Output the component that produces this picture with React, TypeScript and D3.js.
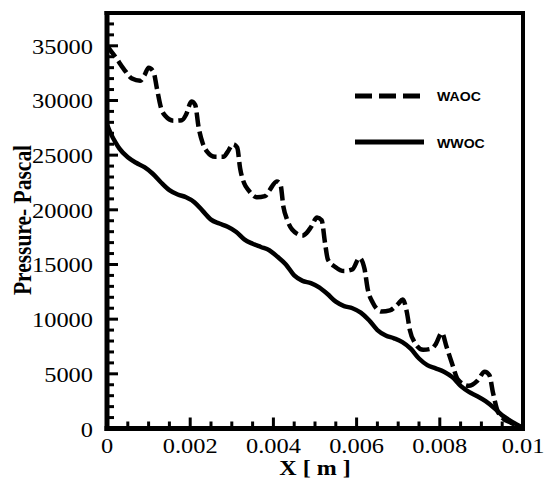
import React from "react";
import * as d3 from "d3";

const W = 547;
const H = 483;

// WAOC (dashed) series: x [m], pressure [Pa]
const waocX = [
  0, 0.0001, 0.0002, 0.0004, 0.0006, 0.0008, 0.0009, 0.001, 0.00112, 0.0012, 0.0013, 0.0014, 0.0016, 0.0018, 0.0019,
  0.00203, 0.00212, 0.0022, 0.0023, 0.0024, 0.0026, 0.0028, 0.0029,
  0.00303, 0.00313, 0.0032, 0.0033, 0.0034, 0.0036, 0.0038, 0.0039,
  0.00408, 0.00417, 0.00424, 0.00433, 0.00445, 0.0047, 0.0048, 0.0049,
  0.00505, 0.00516, 0.00524, 0.00531, 0.00548, 0.0057, 0.0059,
  0.00607, 0.00619, 0.00627, 0.00639, 0.0066, 0.0068, 0.007,
  0.00711, 0.00721, 0.00728, 0.0074, 0.0076, 0.0078, 0.0079,
  0.00805, 0.00816, 0.00829, 0.00844, 0.0087, 0.0089,
  0.00908, 0.00919, 0.00928, 0.00938, 0.0095, 0.0097, 0.0099, 0.01,
];
const waocP = [
  35000, 34500, 34000, 32900, 32000, 31800, 32300, 33000, 32600, 31100, 29300, 28600, 28150, 28200, 28700,
  29900, 29600, 27600, 26100, 25350, 24850, 24850, 25300,
  26000, 25700, 23800, 22400, 21800, 21150, 21250, 21750,
  22600, 22300, 20300, 19100, 18200, 17650, 17900, 18400,
  19300, 19050, 17000, 15450, 14800, 14400, 14550,
  15600, 14600, 12700, 11500, 10700, 10800, 11400,
  11800, 10600, 9000, 7850, 7200, 7300, 7700,
  8750, 7500, 6000, 4450, 3900, 4350,
  5200, 4900, 3250, 1700, 1000, 550, 200, 0,
];

// WWOC (solid) series
const wwocX = [
  0, 0.0001, 0.0002, 0.0003, 0.0005, 0.0007, 0.0009, 0.0011, 0.0013, 0.0015, 0.0017, 0.0019,
  0.0021, 0.0023, 0.0025, 0.0027, 0.0029, 0.0031, 0.0033, 0.0035, 0.0037, 0.0039,
  0.0041, 0.0043, 0.0045, 0.0047, 0.0049, 0.0051, 0.0053, 0.0055, 0.0057, 0.0059,
  0.0061, 0.0063, 0.0065, 0.0067, 0.0069, 0.0071, 0.0073, 0.0075, 0.0077, 0.0079,
  0.0081, 0.0083, 0.0085, 0.0087, 0.0089, 0.0091, 0.0093, 0.0095, 0.0097, 0.0099, 0.01,
];
const wwocP = [
  27800, 26900, 26200, 25600, 24800, 24300, 23900, 23300, 22500, 21800, 21400, 21150,
  20700, 19900, 19100, 18750, 18450, 18000, 17300, 16900, 16600, 16300,
  15700, 15000, 14000, 13500, 13300, 12900, 12300, 11600, 11200, 11000,
  10600, 9900, 9000, 8500, 8250, 7900, 7300, 6400, 5800, 5500,
  5200, 4700, 3900, 3350, 2950, 2500, 1900, 1200, 700, 250, 0,
];

const xTicks = [0, 0.002, 0.004, 0.006, 0.008, 0.01];
const xTickLabels = ["0", "0.002", "0.004", "0.006", "0.008", "0.01"];
const yTicks = [0, 5000, 10000, 15000, 20000, 25000, 30000, 35000];
const seriesNames = ["WAOC", "WWOC"];

export default function App() {
  const x0 = 107, x1 = 523, yBot = 428.5, yTop = 13;
  const x = d3.scaleLinear().domain([0, 0.01]).range([x0, x1]);
  const y = d3.scaleLinear().domain([0, 38000]).range([yBot, yTop]);

  const line = d3
    .line<[number, number]>()
    .x((d) => x(d[0]))
    .y((d) => y(d[1]))
    .curve(d3.curveMonotoneX);

  const waoc = waocX.map((v, i) => [v, waocP[i]] as [number, number]);
  const wwoc = wwocX.map((v, i) => [v, wwocP[i]] as [number, number]);

  const xMinor = d3.range(0, 0.01 + 1e-9, 0.0005);
  const yMinor = d3.range(0, 38000 + 1, 1000);

  const serif = "'Liberation Serif', 'Times New Roman', serif";
  const sans = "'Liberation Sans', Arial, sans-serif";

  return (
    <svg width={W} height={H} style={{ position: "absolute", left: 0, top: 0, background: "#fff" }}>
      <rect x={0} y={0} width={W} height={H} fill="#fff" />
      {/* curves */}
      <path d={line(wwoc) || ""} fill="none" stroke="#000" strokeWidth={4.5} />
      <path d={line(waoc) || ""} fill="none" stroke="#000" strokeWidth={4.5} strokeDasharray="14 5" />

      {/* minor/major ticks */}
      {xMinor.map((v, i) => {
        const major = i % 4 === 0;
        return (
          <line key={"xt" + i} x1={x(v)} x2={x(v)} y1={yBot} y2={yBot - (major ? 11 : 7)} stroke="#000" strokeWidth={3} />
        );
      })}
      {yMinor.map((v, i) => {
        const major = i % 5 === 0;
        return (
          <line key={"yt" + i} x1={x0} x2={x0 + (major ? 11 : 7)} y1={y(v)} y2={y(v)} stroke="#000" strokeWidth={3} />
        );
      })}

      {/* frame */}
      <line x1={x0 - 2.5} x2={x1 + 2} y1={yTop} y2={yTop} stroke="#000" strokeWidth={4} />
      <line x1={x1} x2={x1} y1={yTop} y2={yBot} stroke="#000" strokeWidth={4} />
      <line x1={x0} x2={x0} y1={yTop - 2} y2={yBot + 2.5} stroke="#000" strokeWidth={5} />
      <line x1={x0 - 2.5} x2={x1 + 2} y1={yBot} y2={yBot} stroke="#000" strokeWidth={5} />

      {/* tick labels */}
      {xTicks.map((v, i) => (
        <text
          key={"xl" + i}
          transform={`translate(${x(v)},${453}) scale(1.22,1)`}
          textAnchor="middle"
          fontFamily={serif}
          fontSize={20}
          fill="#000"
        >
          {xTickLabels[i]}
        </text>
      ))}
      {yTicks.map((v, i) => (
        <text
          key={"yl" + i}
          transform={`translate(${93},${y(v) + 8}) scale(1.22,1)`}
          textAnchor="end"
          fontFamily={serif}
          fontSize={20}
          fill="#000"
        >
          {d3.format("d")(v)}
        </text>
      ))}

      {/* axis titles */}
      <text
        transform={`translate(315,475) scale(1.2,1)`}
        textAnchor="middle"
        fontFamily={serif}
        fontWeight="bold"
        fontSize={20}
        fill="#000"
      >
        X [ m ]
      </text>
      <text
        transform={`translate(31,220) scale(1.22,1) rotate(-90)`}
        textAnchor="middle"
        fontFamily={serif}
        fontWeight="bold"
        fontSize={21.5}
        fill="#000"
      >
        Pressure- Pascal
      </text>

      {/* legend */}
      <line x1={355} x2={423} y1={96} y2={96} stroke="#000" strokeWidth={5} strokeDasharray="17 7" />
      <line x1={355} x2={424} y1={142} y2={142} stroke="#000" strokeWidth={5} />
      <text transform="translate(437,100.5) scale(1.13,1)" fontFamily={sans} fontWeight="bold" fontSize={12.5} fill="#000">
        {seriesNames[0]}
      </text>
      <text transform="translate(437,147.5) scale(1.13,1)" fontFamily={sans} fontWeight="bold" fontSize={12.5} fill="#000">
        {seriesNames[1]}
      </text>
    </svg>
  );
}
